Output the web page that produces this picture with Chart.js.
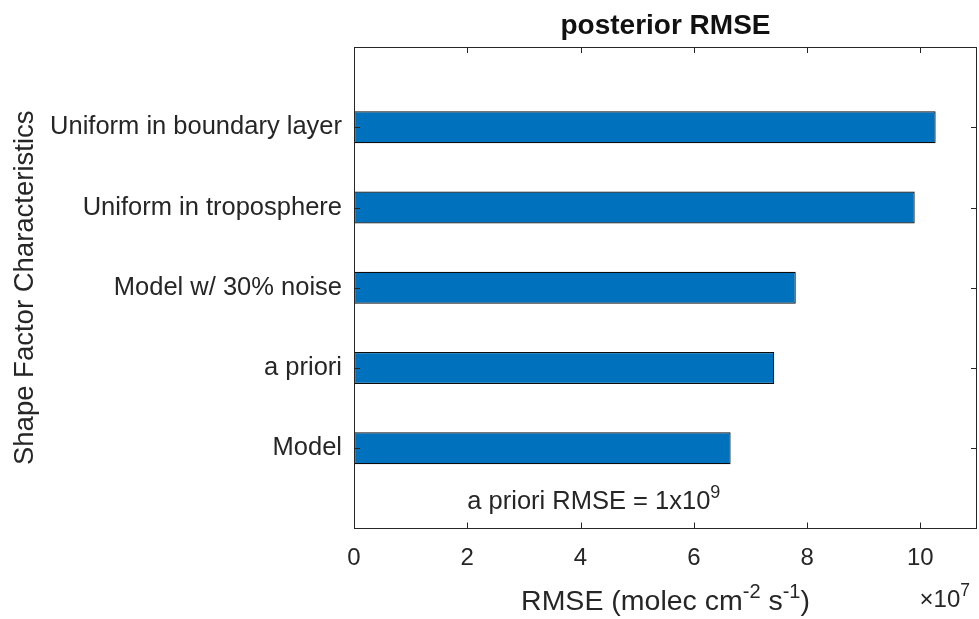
<!DOCTYPE html>
<html>
<head>
<meta charset="utf-8">
<script src="https://cdn.jsdelivr.net/npm/chart.js@4/dist/chart.umd.min.js"></script>
<style>
  html, body { margin: 0; padding: 0; background: #ffffff; }
  #wrap { width: 979px; height: 619px; }
</style>
</head>
<body>
<div id="wrap"><canvas id="c" width="979" height="619"></canvas></div>
<script>
// Shape-factor cases, bottom to top
const categories = ['Model', 'a priori', 'Model w/ 30% noise', 'Uniform in troposphere', 'Uniform in boundary layer'];
// posterior RMSE, in units of 10^7 molec cm^-2 s^-1
const rmse = [6.65, 7.42, 7.80, 9.90, 10.27];
const xTicks = [0, 2, 4, 6, 8, 10];
const xRange = [0, 11];
const chartTitle = 'posterior RMSE';
const yTitle = 'Shape Factor Characteristics';
const xTitleParts = ['RMSE (molec cm', '-2', ' s', '-1', ')'];
const exponent = '7';
const noteParts = ['a priori RMSE = 1x10', '9'];

const FONT = '"Liberation Sans", Arial, Helvetica, sans-serif';
const INK = '#262626';
const BAR = '#0072BD';

// draw a run of text pieces; odd pieces are raised and smaller (superscripts)
function drawRich(ctx, parts, x, y, align, size, supSize, rise) {
  const pieces = parts.map((t, i) => ({ t, sup: i % 2 === 1 }));
  let total = 0;
  pieces.forEach(p => {
    ctx.font = (p.sup ? supSize : size) + 'px ' + FONT;
    p.w = ctx.measureText(p.t).width;
    total += p.w;
  });
  let cx = align === 'center' ? x - total / 2 : align === 'right' ? x - total : x;
  ctx.textAlign = 'left';
  ctx.textBaseline = 'alphabetic';
  pieces.forEach(p => {
    ctx.font = (p.sup ? supSize : size) + 'px ' + FONT;
    ctx.fillText(p.t, cx, p.sup ? y - rise : y);
    cx += p.w;
  });
}

const framePlugin = {
  id: 'frame',
  afterDatasetsDraw(chart) {
    const ctx = chart.ctx;
    const a = chart.chartArea;
    const xs = chart.scales.x, ys = chart.scales.y;
    ctx.save();
    ctx.strokeStyle = INK;
    ctx.lineWidth = 1;
    // axes box
    ctx.strokeRect(Math.round(a.left) + 0.5, Math.round(a.top) + 0.5,
                   Math.round(a.right - a.left) - 1, Math.round(a.bottom - a.top) - 1);
    // inward tick marks on all four sides
    const tl = 6;
    ctx.beginPath();
    xTicks.forEach(v => {
      const px = Math.round(xs.getPixelForValue(v)) + 0.5;
      ctx.moveTo(px, a.bottom); ctx.lineTo(px, a.bottom - tl);
      ctx.moveTo(px, a.top); ctx.lineTo(px, a.top + tl);
    });
    categories.forEach((c, i) => {
      const py = Math.round(ys.getPixelForValue(i + 1)) + 0.5;
      ctx.moveTo(a.left, py); ctx.lineTo(a.left + tl, py);
      ctx.moveTo(a.right, py); ctx.lineTo(a.right - tl, py);
    });
    ctx.stroke();

    ctx.fillStyle = INK;
    // note inside the axes
    drawRich(ctx, noteParts, xs.getPixelForValue(2.0), ys.getPixelForValue(0.24), 'left', 25.5, 18, 11);

    // title
    ctx.fillStyle = '#111111';
    ctx.font = 'bold 28px ' + FONT;
    ctx.textAlign = 'center';
    ctx.textBaseline = 'alphabetic';
    ctx.fillText(chartTitle, (a.left + a.right) / 2, 34);

    ctx.fillStyle = INK;
    // x-axis title
    drawRich(ctx, xTitleParts, (a.left + a.right) / 2, 610, 'center', 28.5, 20, 12);
    // axis multiplier
    drawRich(ctx, ['\u00d710', exponent], 970, 607, 'right', 24, 17.5, 11);

    // y-axis title
    ctx.save();
    ctx.translate(33, (a.top + a.bottom) / 2);
    ctx.rotate(-Math.PI / 2);
    ctx.font = '27.5px ' + FONT;
    ctx.textAlign = 'center';
    ctx.textBaseline = 'alphabetic';
    ctx.fillText(yTitle, 0, 0);
    ctx.restore();
    ctx.restore();
  }
};

new Chart(document.getElementById('c'), {
  type: 'bar',
  data: {
    datasets: [{
      data: categories.map((c, i) => ({ y: i + 1, x: rmse[i] })),
      backgroundColor: BAR,
      borderColor: '#0d0d0d',
      borderWidth: 1.2,
      borderSkipped: false,
      barPercentage: 0.4,
      categoryPercentage: 1.0
    }]
  },
  options: {
    indexAxis: 'y',
    responsive: false,
    devicePixelRatio: 1,
    animation: false,
    layout: { padding: { top: 47, right: 2, left: 0, bottom: 0 } },
    plugins: { legend: { display: false }, tooltip: { enabled: false }, title: { display: false } },
    scales: {
      x: {
        type: 'linear',
        min: xRange[0],
        max: xRange[1],
        afterBuildTicks: s => { s.ticks = xTicks.map(v => ({ value: v })); },
        afterFit: s => { s.height = 90.5; },
        grid: { display: false, drawTicks: false },
        border: { display: false },
        ticks: { color: INK, font: { family: FONT, size: 24 }, padding: 15, maxRotation: 0 }
      },
      y: {
        type: 'linear',
        offset: false,
        min: 0,
        max: categories.length + 1,
        afterBuildTicks: s => { s.ticks = categories.map((c, i) => ({ value: i + 1 })); },
        afterFit: s => { s.width = 354; },
        grid: { display: false, drawTicks: false, offset: false },
        border: { display: false },
        ticks: {
          color: INK,
          font: { family: FONT, size: 25.5 },
          padding: 12,
          callback: v => categories[v - 1] || ''
        }
      }
    }
  },
  plugins: [framePlugin]
});
</script>
</body>
</html>
